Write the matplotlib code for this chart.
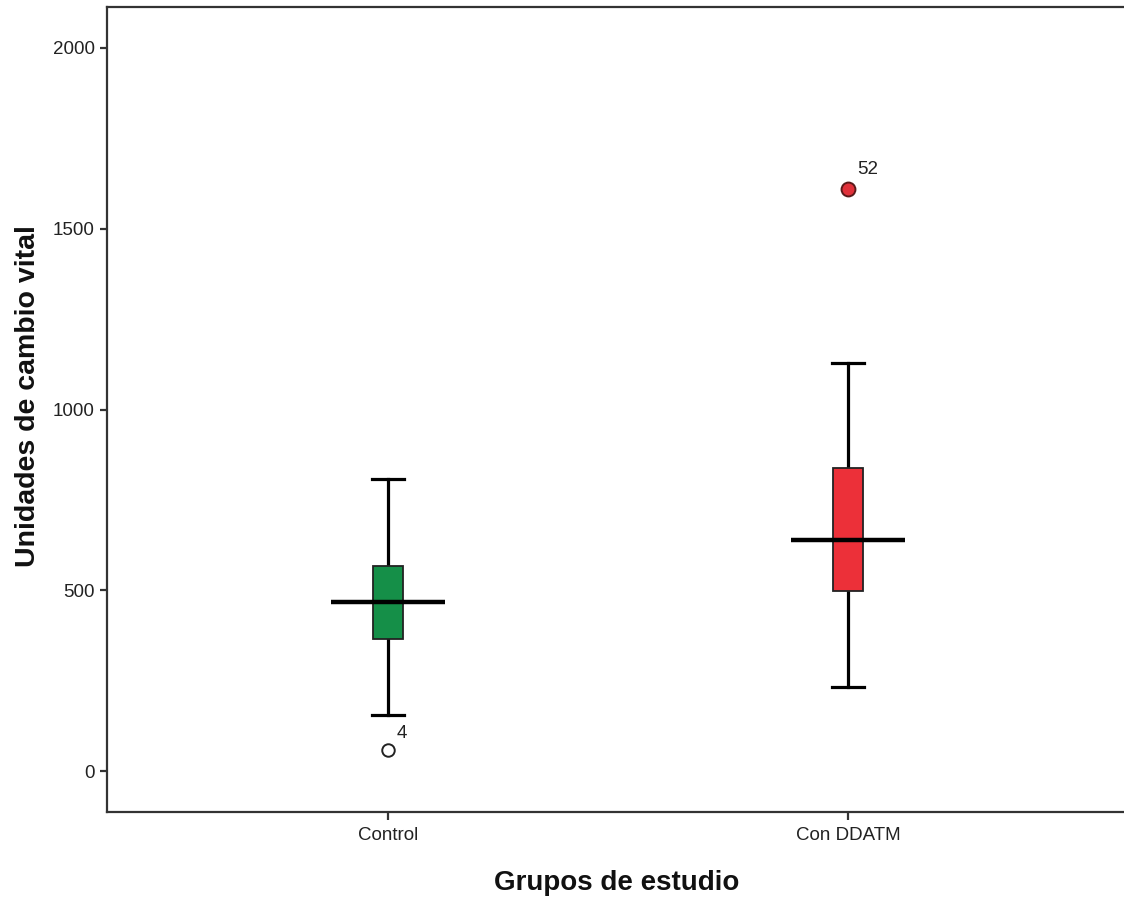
import matplotlib
matplotlib.use("Agg")
import matplotlib.pyplot as plt

plt.rcParams['font.family'] = ['Liberation Sans', 'DejaVu Sans']

# Group summary statistics (Tukey boxplot)
groups = ["Control", "Con DDATM"]
whisker_low = [156, 232]
q1 = [365, 499]
medians = [467, 640]
q3 = [567, 837]
whisker_high = [808, 1130]
outliers = [[58], [1610]]
outlier_ids = [["4"], ["52"]]

box_colors = ["#158F48", "#EC3039"]
flier_faces = ["white", "#E0313A"]
flier_edges = ["#222222", "#5A1A1A"]
flier_sizes = [9, 10]
label_offsets = [(10, 12), (14, 14)]

positions = [1, 2]

fig = plt.figure(figsize=(11.24, 9.02), dpi=100)
ax = fig.add_axes([107 / 1124, 90 / 902, 1022 / 1124, 805 / 902])

stats = []
for i, g in enumerate(groups):
    stats.append(dict(label=g, whislo=whisker_low[i], q1=q1[i], med=medians[i],
                      q3=q3[i], whishi=whisker_high[i], fliers=outliers[i]))

parts = ax.bxp(stats, positions=positions, widths=0.065, patch_artist=True,
               showfliers=True,
               boxprops=dict(linewidth=1.3, edgecolor="#222222"),
               whiskerprops=dict(linewidth=2.3, color="black"),
               capprops=dict(linewidth=2.3, color="black"),
               medianprops=dict(visible=False),
               capwidths=0.07)

for i, patch in enumerate(parts["boxes"]):
    patch.set_facecolor(box_colors[i])
    patch.set_zorder(3)
for w in parts["whiskers"]:
    w.set_zorder(2)
for c in parts["caps"]:
    c.set_zorder(2)
for i, fl in enumerate(parts["fliers"]):
    fl.set_marker("o")
    fl.set_markerfacecolor(flier_faces[i])
    fl.set_markeredgecolor(flier_edges[i])
    fl.set_markeredgewidth(1.4)
    fl.set_markersize(flier_sizes[i])
    fl.set_zorder(4)

# Median bars extend well beyond the box
ax.hlines(medians, [p - 0.124 for p in positions], [p + 0.124 for p in positions],
          colors="black", linewidth=3.2, zorder=5)

# Case labels next to outliers
for i, p in enumerate(positions):
    for val, lab in zip(outliers[i], outlier_ids[i]):
        ax.annotate(lab, (p, val), xytext=label_offsets[i], textcoords="offset points",
                    ha="center", va="center", fontsize=13.5, color="#222222")

ax.set_xlim(0.389, 2.611)
ax.set_ylim(-113.4, 2113.4)
ax.set_yticks([0, 500, 1000, 1500, 2000])
ax.set_xticks(positions)
ax.set_xticklabels(groups)

for side in ["left", "bottom", "top", "right"]:
    ax.spines[side].set_linewidth(1.6)
    ax.spines[side].set_color("#333333")

ax.tick_params(axis="y", direction="out", length=5, width=1.6, pad=4,
               labelsize=13.5, colors="#333333", labelcolor="#222222")
ax.tick_params(axis="x", direction="out", length=6, width=1.6, pad=5,
               labelsize=13.5, colors="#333333", labelcolor="#222222")

fig.text(617 / 1124, 1 - 883 / 902, "Grupos de estudio", ha="center", va="center",
         fontsize=20, fontweight="bold", color="#111111")
fig.text(28 / 1124, 1 - 396 / 902, "Unidades de cambio vital", ha="center", va="center",
         rotation=90, fontsize=20.5, fontweight="bold", color="#111111")

fig.savefig("out.png", dpi=100)
